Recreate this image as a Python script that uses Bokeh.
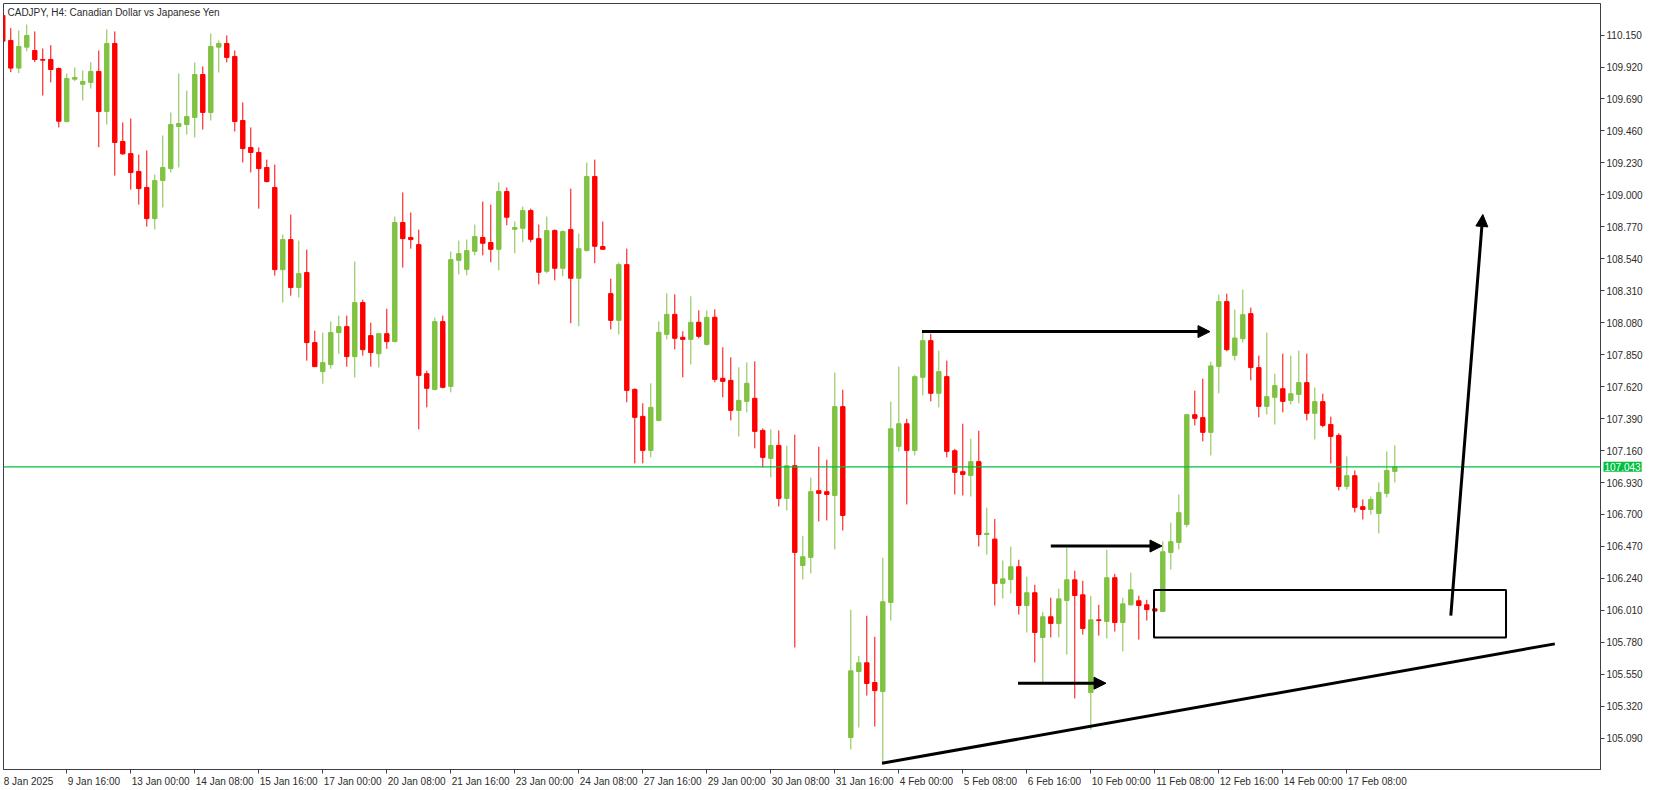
from bokeh.plotting import figure
from bokeh.models import (Range1d, FixedTicker, NumeralTickFormatter, Span, Label,
                          Arrow, NormalHead, BoxAnnotation, ColumnDataSource)
from bokeh.embed import file_html
from bokeh.resources import INLINE

# ---------------- data (CADJPY H4, bars from 8 Jan 2025 08:00) ----------------
opens = [110.291, 110.111, 109.912, 110.063, 110.039, 109.974, 109.974, 109.909, 109.528, 109.832,
         109.796, 109.809, 109.888, 109.600, 110.089, 109.384, 109.297, 109.168, 109.053, 108.829,
         109.103, 109.189, 109.492, 109.506, 109.557, 109.866, 109.593, 110.063, 110.089, 109.996,
         109.535, 109.341, 109.305, 109.197, 109.053, 108.462, 108.678, 108.333, 108.441, 107.937,
         107.728, 107.778, 108.009, 108.052, 107.836, 108.225, 107.987, 107.857, 108.001, 107.944,
         108.801, 108.693, 108.642, 107.713, 107.600, 108.088, 107.622, 108.529, 108.464, 108.594,
         108.693, 108.657, 108.608, 109.024, 108.752, 108.760, 108.887, 108.685, 108.450, 108.743,
         108.472, 108.750, 108.400, 108.599, 109.132, 108.628, 108.289, 108.097, 108.498, 107.600,
         107.406, 107.161, 107.377, 107.996, 108.140, 107.975, 107.960, 108.083, 107.924, 108.119,
         107.680, 107.665, 107.449, 107.514, 107.536, 107.305, 107.104, 107.197, 106.816, 107.051,
         106.333, 106.391, 106.871, 106.864, 106.837, 107.476, 105.095, 105.570, 105.633, 105.491,
         105.426, 106.067, 107.190, 107.353, 107.161, 107.687, 107.951, 107.572, 107.692, 107.159,
         107.008, 106.981, 107.080, 106.556, 106.523, 106.204, 106.232, 106.324, 106.045, 106.137,
         105.815, 105.964, 105.916, 106.081, 106.230, 106.122, 105.419, 105.942, 105.930, 106.245,
         105.923, 106.050, 106.079, 106.050, 106.021, 106.002, 106.427, 106.499, 106.628, 107.418,
         107.397, 107.291, 107.766, 108.232, 107.845, 107.965, 108.145, 107.757, 107.478, 107.543,
         107.605, 107.521, 107.564, 107.649, 107.428, 107.512, 107.348, 107.269, 106.902, 106.979,
         106.756, 106.736, 106.708, 106.852, 107.010]

highs = [110.305, 110.200, 110.183, 110.226, 110.176, 110.053, 110.077, 109.917, 109.873, 109.917,
         109.895, 109.955, 110.039, 110.190, 110.176, 109.521, 109.549, 109.290, 109.319, 109.146,
         109.427, 109.593, 109.873, 109.751, 109.953, 109.924, 110.161, 110.111, 110.147, 110.039,
         109.665, 109.485, 109.341, 109.254, 109.218, 108.714, 108.858, 108.671, 108.606, 108.023,
         108.009, 108.088, 108.131, 108.131, 108.520, 108.246, 108.081, 108.001, 108.181, 108.844,
         109.017, 108.873, 108.750, 107.735, 108.117, 108.131, 108.592, 108.671, 108.678, 108.786,
         108.952, 108.930, 109.089, 109.053, 108.808, 108.916, 108.901, 108.786, 108.844, 108.752,
         108.743, 109.045, 108.721, 109.233, 109.254, 108.808, 108.397, 108.513, 108.613, 107.608,
         107.500, 107.644, 108.090, 108.292, 108.284, 108.018, 108.270, 108.169, 108.169, 108.176,
         107.903, 107.831, 107.759, 107.795, 107.802, 107.320, 107.312, 107.305, 107.195, 107.274,
         106.547, 106.965, 107.188, 107.094, 107.721, 107.598, 106.014, 105.683, 105.971, 105.820,
         106.389, 107.512, 107.764, 107.389, 107.706, 108.016, 108.000, 107.879, 107.807, 107.173,
         107.353, 107.245, 107.303, 106.749, 106.667, 106.369, 106.470, 106.374, 106.252, 106.194,
         106.000, 106.101, 106.165, 106.461, 106.295, 106.223, 106.115, 106.050, 106.446, 106.273,
         106.101, 106.281, 106.115, 106.086, 106.029, 106.506, 106.641, 106.844, 107.425, 107.591,
         107.677, 107.800, 108.282, 108.289, 108.174, 108.318, 108.189, 107.843, 108.009, 107.713,
         107.857, 107.843, 107.879, 107.857, 107.613, 107.569, 107.404, 107.284, 107.118, 107.017,
         106.808, 106.830, 106.931, 107.154, 107.197]

lows = [110.104, 109.883, 109.876, 110.034, 109.955, 109.715, 109.809, 109.485, 109.521, 109.818,
        109.679, 109.765, 109.343, 109.506, 109.139, 109.288, 109.038, 108.930, 108.772, 108.750,
        108.909, 109.161, 109.197, 109.434, 109.413, 109.470, 109.535, 109.881, 109.953, 109.456,
        109.233, 109.161, 108.901, 109.089, 108.419, 108.225, 108.275, 108.261, 107.807, 107.764,
        107.641, 107.749, 107.857, 107.764, 107.685, 107.843, 107.764, 107.757, 107.893, 107.940,
        108.477, 108.613, 107.312, 107.471, 107.593, 107.608, 107.579, 108.428, 108.421, 108.565,
        108.565, 108.515, 108.457, 108.781, 108.580, 108.659, 108.659, 108.356, 108.436, 108.385,
        108.414, 108.076, 108.054, 108.592, 108.508, 108.608, 108.032, 107.996, 107.507, 107.068,
        107.068, 107.111, 107.370, 107.960, 107.888, 107.687, 107.780, 107.968, 107.917, 107.651,
        107.543, 107.377, 107.262, 107.435, 107.176, 107.039, 106.967, 106.758, 106.729, 105.743,
        106.232, 106.276, 106.650, 106.657, 106.448, 106.585, 105.008, 105.167, 105.397, 105.174,
        104.908, 105.937, 107.154, 106.772, 107.125, 107.557, 107.514, 107.471, 107.111, 106.844,
        106.837, 106.830, 106.470, 106.412, 106.045, 106.096, 106.132, 105.980, 105.851, 105.635,
        105.491, 105.815, 105.815, 105.692, 105.376, 105.836, 105.152, 105.829, 105.808, 105.858,
        105.714, 106.045, 105.800, 105.937, 106.000, 106.002, 106.304, 106.448, 106.607, 107.341,
        107.226, 107.125, 107.572, 107.874, 107.809, 107.937, 107.665, 107.399, 107.420, 107.348,
        107.435, 107.492, 107.500, 107.377, 107.240, 107.327, 107.068, 106.873, 106.880, 106.715,
        106.664, 106.700, 106.564, 106.823, 106.931]

closes = [110.106, 109.912, 110.068, 110.147, 109.974, 109.969, 109.902, 109.530, 109.837, 109.845,
          109.816, 109.888, 109.600, 110.089, 109.377, 109.295, 109.161, 109.045, 108.829, 109.103,
          109.197, 109.506, 109.513, 109.564, 109.866, 109.593, 110.068, 110.089, 109.989, 109.528,
          109.333, 109.305, 109.189, 109.096, 108.462, 108.678, 108.333, 108.433, 107.937, 107.764,
          107.793, 108.009, 108.052, 107.836, 108.225, 107.886, 107.865, 108.001, 107.944, 108.801,
          108.685, 108.678, 107.701, 107.608, 108.088, 107.615, 108.534, 108.577, 108.599, 108.700,
          108.652, 108.608, 109.024, 108.839, 108.765, 108.887, 108.680, 108.443, 108.743, 108.472,
          108.736, 108.400, 108.613, 109.132, 108.630, 108.608, 108.097, 108.498, 107.593, 107.399,
          107.161, 107.471, 108.011, 108.140, 107.968, 107.960, 108.083, 107.982, 108.119, 107.672,
          107.658, 107.449, 107.521, 107.644, 107.298, 107.111, 107.197, 106.816, 107.051, 106.427,
          106.396, 106.864, 106.852, 106.844, 107.476, 106.693, 105.575, 105.633, 105.484, 105.433,
          106.072, 107.317, 107.353, 107.161, 107.692, 107.951, 107.572, 107.728, 107.154, 107.003,
          106.988, 107.080, 106.556, 106.564, 106.204, 106.237, 106.324, 106.045, 106.137, 105.851,
          105.964, 105.916, 106.093, 106.230, 106.117, 105.880, 105.942, 105.937, 106.245, 105.923,
          106.057, 106.158, 106.045, 106.016, 106.005, 106.432, 106.504, 106.713, 107.418, 107.392,
          107.291, 107.769, 108.232, 107.886, 107.970, 108.138, 107.757, 107.478, 107.548, 107.627,
          107.514, 107.569, 107.649, 107.428, 107.512, 107.341, 107.262, 106.902, 106.979, 106.751,
          106.736, 106.808, 106.859, 107.017, 107.043]

tick_bars = [0, 8, 16, 24, 32, 40, 48, 56, 64, 72, 80, 88, 96, 104, 112, 120, 128, 136, 144, 152, 160, 168]
tick_labels = ["8 Jan 2025", "9 Jan 16:00", "13 Jan 00:00", "14 Jan 08:00", "15 Jan 16:00",
               "17 Jan 00:00", "20 Jan 08:00", "21 Jan 16:00", "23 Jan 00:00", "24 Jan 08:00",
               "27 Jan 16:00", "29 Jan 00:00", "30 Jan 08:00", "31 Jan 16:00", "4 Feb 00:00",
               "5 Feb 08:00", "6 Feb 16:00", "10 Feb 00:00", "11 Feb 08:00", "12 Feb 16:00",
               "14 Feb 00:00", "17 Feb 08:00"]
price_ticks = [105.090, 105.320, 105.550, 105.780, 106.010, 106.240, 106.470, 106.700, 106.930,
               107.160, 107.390, 107.620, 107.850, 108.080, 108.310, 108.540, 108.770, 109.000,
               109.230, 109.460, 109.690, 109.920, 110.150]
bid_price = 107.043
title_text = "CADJPY, H4:  Canadian Dollar vs Japanese Yen"

# drawn objects (bar index, price)
arrow_x0 = [114.9, 131.0, 126.9, 181.0]
arrow_y0 = [108.016, 106.473, 105.486, 105.973]
arrow_x1 = [150.9, 144.9, 137.9, 185.0]
arrow_y1 = [108.016, 106.473, 105.486, 108.859]
zone_left, zone_right = 143.9, 187.9
zone_top, zone_bottom = 106.156, 105.815
trend_x = [109.9, 194.0]
trend_y = [104.910, 105.769]

# ---------------- styling ----------------
BULL = "#80C242"
BEAR = "#FF0000"
FRAME = "#3C4048"
TEXT = "#2B2B2B"
BIDC = "#00C040"
FONT = "Liberation Sans"
FONT_PX = 10

FRAME_W, FRAME_H = 1597, 766
X0, X1 = 0.09, 199.71
Y0, Y1 = 104.865, 110.377

n = len(opens)
idx = list(range(n))
src = ColumnDataSource(dict(
    x=idx, low=lows, high=highs,
    top=[max(o, c) for o, c in zip(opens, closes)],
    bottom=[min(o, c) for o, c in zip(opens, closes)],
    color=[BULL if c >= o else BEAR for o, c in zip(opens, closes)],
))

p = figure(frame_width=FRAME_W, frame_height=FRAME_H,
           x_range=Range1d(X0, X1), y_range=Range1d(Y0, Y1),
           output_backend="svg", toolbar_location=None, y_axis_location="right",
           min_border_left=3, min_border_top=3, min_border_right=8, min_border_bottom=8,
           background_fill_color="white", border_fill_color="white")
p.xgrid.visible = False
p.ygrid.visible = False
p.outline_line_color = FRAME
p.outline_line_width = 1

p.segment(x0="x", y0="low", x1="x", y1="high", line_color="color", line_width=1, source=src)
p.vbar(x="x", width=0.55, top="top", bottom="bottom", fill_color="color",
       line_color="color", line_width=1, source=src)

p.add_layout(Span(location=bid_price, dimension="width", line_color=BIDC, line_width=1.2))

# user drawings
p.add_layout(BoxAnnotation(left=zone_left, right=zone_right, top=zone_top, bottom=zone_bottom,
                           fill_alpha=0, line_color="black", line_width=2, line_alpha=1))
p.line(trend_x, trend_y, line_color="black", line_width=3)
asrc = ColumnDataSource(dict(x0=arrow_x0, y0=arrow_y0, x1=arrow_x1, y1=arrow_y1))
p.add_layout(Arrow(end=NormalHead(size=12, fill_color="black", line_color="black", line_width=1),
                   x_start="x0", y_start="y0", x_end="x1", y_end="y1", source=asrc,
                   line_color="black", line_width=3))

# axes --------------------------------------------------------------
ya = p.yaxis[0]
ya.ticker = FixedTicker(ticks=price_ticks)
ya.formatter = NumeralTickFormatter(format="0.000")
ya.major_tick_line_color = FRAME

# time labels start at their tick (MT5 style): the tick mark is a minor tick,
# the (centred) label sits half its own width to the right of it.
CW = {" ": 0.278, ":": 0.278, "J": 0.5, "a": 0.556, "n": 0.556, "F": 0.611, "e": 0.556, "b": 0.556}
px_per_bar = FRAME_W / (X1 - X0)
def half_width_bars(s):
    w = sum(CW.get(ch, 0.556) for ch in s) * FONT_PX
    return (w / 2 + 1) / px_per_bar
label_pos = [round(b + half_width_bars(t), 4) for b, t in zip(tick_bars, tick_labels)]
xa = p.xaxis[0]
xa.ticker = FixedTicker(ticks=label_pos, minor_ticks=tick_bars)
xa.major_label_overrides = {pos: t for pos, t in zip(label_pos, tick_labels)}
xa.major_tick_line_color = None
xa.minor_tick_line_color = FRAME
xa.minor_tick_out = 4
xa.minor_tick_in = 0

for ax in (xa, ya):
    ax.axis_line_color = FRAME
    ax.major_tick_out = 4
    ax.major_tick_in = 0
    ax.major_label_text_font = FONT
    ax.major_label_text_font_size = f"{FONT_PX}px"
    ax.major_label_text_color = TEXT
    ax.major_label_standoff = 2
ya.minor_tick_line_color = None

# bid price tag on the price axis (side panel, so it is not clipped to the frame)
p.add_layout(Label(x=X1, y=bid_price, x_offset=3, text=f"{bid_price:.3f}",
                   text_font=FONT, text_font_size=f"{FONT_PX}px", text_color="white",
                   text_baseline="middle", text_align="left",
                   background_fill_color=BIDC, padding=1), "right")

# title
p.add_layout(Label(x=4, x_units="screen", y=Y1, text=title_text,
                   text_font=FONT, text_font_size=f"{FONT_PX}px", text_color=TEXT,
                   text_baseline="top", text_align="left", y_offset=-3))

open("out.html", "w").write(file_html(p, INLINE))
